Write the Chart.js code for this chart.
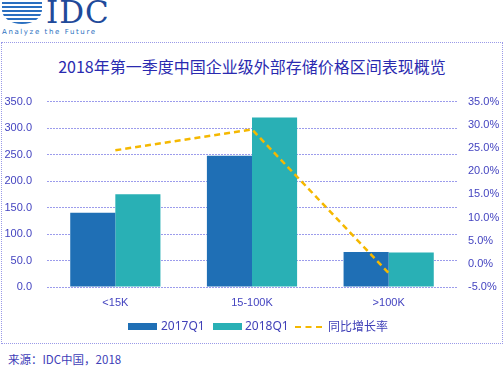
<!DOCTYPE html>
<html>
<head>
<meta charset="utf-8">
<script src="https://cdn.jsdelivr.net/npm/chart.js@4"></script>
<style>
  body { margin: 0; width: 504px; height: 369px; background: #fff; position: relative; overflow: hidden;
         font-family: "Noto Sans", "Noto Sans CJK SC", sans-serif; }
  #logo { position: absolute; left: 0; top: 0; width: 110px; height: 40px; }
  #globe { position: absolute; left: 2px; top: 2px; width: 40px; height: 22px; border-radius: 0 0 20px 20px / 0 0 14px 14px;
           background: repeating-linear-gradient(to bottom, #2a6fc0 0 2px, #fff 2px 4px); }
  #idc { position: absolute; left: 46px; top: -6px; font: 31px "DejaVu Serif", "Liberation Serif", serif; color: #1f4a9a; letter-spacing: 1px; }
  #tag { position: absolute; left: 2px; top: 28px; font: 7px "DejaVu Sans", sans-serif; color: #2a6fc0; letter-spacing: 1.6px; }
  #frame { position: absolute; left: 1px; top: 42px; width: 500px; height: 300px; border: 1px dotted #9a9ae8; }
  #title { position: absolute; left: 0; width: 504px; top: 54px; text-align: center; font-size: 16px; color: #2a2ab0;
           font-family: "Noto Sans CJK SC", sans-serif; }
  #wrap { position: absolute; left: 0; top: 80px; width: 504px; height: 240px; }
  .lg { position: absolute; top: 318px; font-size: 12px; color: #4040b8; line-height: 16px; }
  .sw { position: absolute; top: 323px; height: 7px; width: 29px; }
  #src { position: absolute; left: 8px; top: 351px; font-size: 11.5px; color: #4040b8; font-family: "Noto Sans CJK SC", sans-serif; }
</style>
</head>
<body>
<div id="logo"><div id="globe"></div><div id="idc">IDC</div><div id="tag">Analyze the Future</div></div>
<div id="frame"></div>
<div id="title">2018年第一季度中国企业级外部存储价格区间表现概览</div>
<div id="wrap"><canvas id="chart" width="504" height="240"></canvas></div>
<div class="sw" style="left:128px;background:#1f6fb5"></div><div class="lg" style="left:161px">2017Q1</div>
<div class="sw" style="left:213px;background:#29b0b5"></div><div class="lg" style="left:245px">2018Q1</div>
<div class="sw" style="left:295px;width:27px;height:0;top:326px;border-top:2.5px dashed #f5b800"></div><div class="lg" style="left:328px;font-family:'Noto Sans CJK SC',sans-serif">同比增长率</div>
<div id="src">来源：IDC中国，2018</div>
<script>
// 数据
const categories = ["<15K", "15-100K", ">100K"];
const sales2017 = [140, 248, 66];
const sales2018 = [175, 320, 65];
const growthRate = [24.5, 29.0, -2.0];

const tickColor = "#4444c0";
const gridColor = "#9c9cec";

function initChart() {
  const ctx = document.getElementById("chart").getContext("2d");
  new Chart(ctx, {
    type: "bar",
    data: {
      labels: categories,
      datasets: [
        {
          type: "line",
          label: "同比增长率",
          data: growthRate,
          yAxisID: "y1",
          borderColor: "#f5b800",
          borderWidth: 2.5,
          borderDash: [6, 4],
          pointRadius: 0,
          fill: false,
          tension: 0,
          order: 0,
        },
        {
          label: "2017Q1",
          data: sales2017,
          backgroundColor: "#1f6fb5",
          yAxisID: "y",
          order: 1,
        },
        {
          label: "2018Q1",
          data: sales2018,
          backgroundColor: "#29b0b5",
          yAxisID: "y",
          order: 1,
        },
      ],
    },
    options: {
      responsive: false,
      animation: false,
      layout: { padding: { top: 12, left: 0, right: 0, bottom: 0 } },
      datasets: { bar: { barPercentage: 1, categoryPercentage: 0.66 } },
      plugins: { legend: { display: false }, title: { display: false }, tooltip: { enabled: false } },
      scales: {
        x: {
          grid: { display: false, drawTicks: false },
          border: { display: false },
          ticks: { color: tickColor, font: { size: 11 }, padding: 9 },
          afterFit: (s) => { s.height = 33; },
        },
        y: {
          position: "left",
          min: 0, max: 350,
          ticks: { stepSize: 50, color: tickColor, font: { size: 11 }, padding: 15,
                   callback: (v) => v.toFixed(1) },
          grid: { color: gridColor, drawTicks: false, lineWidth: 1 },
          border: { display: false, dash: [2, 1] },
          afterFit: (s) => { s.width = 47; },
        },
        y1: {
          position: "right",
          min: -5, max: 35,
          ticks: { stepSize: 5, color: tickColor, font: { size: 11 }, padding: 11,
                   callback: (v) => v.toFixed(1) + "%" },
          grid: { display: false, drawTicks: false },
          border: { display: false },
          afterFit: (s) => { s.width = 47; },
        },
      },
    },
  });
}

window.onload = initChart;
</script>
</body>
</html>
